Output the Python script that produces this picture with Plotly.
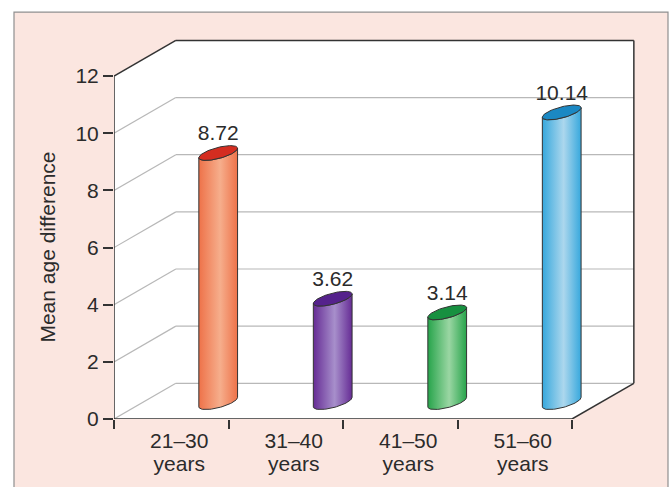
import numpy as np
import plotly.graph_objects as go

# data
categories = ["21–30", "31–40", "41–50", "51–60"]
category_unit = "years"
values = [8.72, 3.62, 3.14, 10.14]
value_labels = ["8.72", "3.62", "3.14", "10.14"]
y_ticks = [0, 2, 4, 6, 8, 10, 12]

edge_colors = ["#ee7249", "#662c95", "#27a44b", "#37a8dd"]
light_colors = ["#f6ae8c", "#a78fcb", "#9ad6a3", "#acd7ed"]
top_colors = ["#d42d20", "#55228c", "#179040", "#1b88c3"]

W, H = 669, 487
ML, MR, MT, MB = 114, 34, 39, 66
XR = [-0.5, 4.05]
YR = [0, 13.3]
KX = (W - ML - MR) / (XR[1] - XR[0])   # px per x unit
KY = (H - MT - MB) / (YR[1] - YR[0])   # px per y unit

DX, DY = 0.54, 1.25        # depth of the fake 3D box
CX_OFF, BASE = 0.41, 0.59  # cylinder placement inside the box
A, B, TH = 20.0, 5.5, np.radians(15)  # ellipse in pixels

DARK = "#333333"
GRID = "#b8b8b8"
TXT = "#2b2b2b"
FS = 21


def ellipse(cx, cy, t):
    ex = A * np.cos(TH) * np.cos(t) - B * np.sin(TH) * np.sin(t)
    ey = A * np.sin(TH) * np.cos(t) + B * np.cos(TH) * np.sin(t)
    return cx + ex / KX, cy + ey / KY


t0 = np.arctan2(-B * np.sin(TH), A * np.cos(TH))
arc = np.linspace(t0 - np.pi, t0, 40)
full = np.linspace(0, 2 * np.pi, 80)
ell_h = np.sqrt((A * np.sin(TH)) ** 2 + (B * np.cos(TH)) ** 2) / KY

fig = go.Figure()

for i, v in enumerate(values):
    cx = i + CX_OFF
    bx, by = ellipse(cx, BASE, arc)
    tx, ty = ellipse(cx, BASE + v, arc)
    # cylinder body with horizontal shading
    fig.add_trace(go.Scatter(
        x=list(tx) + list(bx[::-1]) + [tx[0]],
        y=list(ty) + list(by[::-1]) + [ty[0]],
        mode="lines", fill="toself", line=dict(color=DARK, width=1),
        fillgradient=dict(type="horizontal",
                          colorscale=[[0, edge_colors[i]], [0.55, light_colors[i]], [1, edge_colors[i]]]),
        hoverinfo="skip", showlegend=False))
    # top cap
    ex, ey = ellipse(cx, BASE + v, full)
    fig.add_trace(go.Scatter(
        x=ex, y=ey, mode="lines", fill="toself", fillcolor=top_colors[i],
        line=dict(color=DARK, width=1), hoverinfo="skip", showlegend=False))

fig.add_trace(go.Scatter(
    x=[i + CX_OFF for i in range(len(values))],
    y=[BASE + v + ell_h for v in values],
    mode="text", text=value_labels, textposition="top center",
    textfont=dict(size=FS, color=TXT), hoverinfo="skip", showlegend=False))
# invisible trace so the second x axis (second label line) gets drawn
fig.add_trace(go.Scatter(x=[0], y=[0], xaxis="x2", mode="markers",
                         marker=dict(opacity=0), hoverinfo="skip", showlegend=False))

# box and grid
shapes = []
shapes.append(dict(type="rect", xref="paper", yref="paper", layer="below",
                   x0=(14 - ML) / (W - ML - MR), x1=(668 - ML) / (W - ML - MR),
                   y0=-0.2, y1=(H - MB - 12) / (H - MT - MB),
                   line=dict(color="#8f8f8f", width=1.2), fillcolor="#fbe6e0"))
x0, x1 = -0.5, len(categories) - 0.5
top = y_ticks[-1]
box = (f"M {x0},0 L {x0},{top} L {x0 + DX},{top + DY} L {x1 + DX},{top + DY} "
       f"L {x1 + DX},{DY} L {x1},0 Z")
shapes.append(dict(type="path", path=box, xref="x", yref="y", layer="below",
                   fillcolor="white", line=dict(width=0)))
for v in y_ticks:
    col = DARK if v == top else GRID
    w = 1.5 if v == top else 1.2
    shapes.append(dict(type="line", xref="x", yref="y", layer="below",
                       x0=x0, y0=v, x1=x0 + DX, y1=v + DY, line=dict(color=col, width=w)))
    shapes.append(dict(type="line", xref="x", yref="y", layer="below",
                       x0=x0 + DX, y0=v + DY, x1=x1 + DX, y1=v + DY, line=dict(color=col, width=w)))
edges = [(x0, 0, x0, top), (x0, 0, x1, 0), (x1, 0, x1 + DX, DY), (x1 + DX, DY, x1 + DX, top + DY)]
for a0, b0, a1, b1 in edges:
    shapes.append(dict(type="line", xref="x", yref="y", layer="below",
                       x0=a0, y0=b0, x1=a1, y1=b1, line=dict(color=DARK, width=1.5)))

xcommon = dict(range=XR, showgrid=False, zeroline=False, showline=False, fixedrange=True,
               tickmode="array", tickvals=list(range(len(categories))),
               ticks="outside", ticklen=3, tickcolor="rgba(0,0,0,0)", ticklabelshift=8,
               tickfont=dict(size=FS, color=TXT))

fig.update_layout(
    width=W, height=H,
    margin=dict(l=ML, r=MR, t=MT, b=MB),
    paper_bgcolor="white", plot_bgcolor="rgba(0,0,0,0)",
    font=dict(family="Liberation Sans, Arial, sans-serif", color=TXT, size=FS),
    shapes=shapes,
    xaxis=dict(**xcommon, ticktext=categories,
               minor=dict(tickmode="array", tickvals=[c - 0.5 for c in range(len(categories) + 1)],
                          ticks="outside", ticklen=9, tickcolor=DARK, tickwidth=1.5, showgrid=False)),
    xaxis2=dict(**xcommon, ticktext=[category_unit] * len(categories),
                overlaying="x", anchor="y", side="bottom", ticklabelstandoff=23),
    yaxis=dict(range=YR, showgrid=False, zeroline=False, showline=False,
               tickmode="array", tickvals=y_ticks, ticks="outside", ticklen=10,
               tickcolor=DARK, tickwidth=1.5, tickfont=dict(size=FS, color=TXT), fixedrange=True),
    annotations=[dict(text="Mean age difference", textangle=-90, showarrow=False,
                      xref="paper", yref="y", x=(48 - ML) / (W - ML - MR), y=top / 2,
                      xanchor="center", yanchor="middle", font=dict(size=FS, color=TXT))],
)

fig.write_html("out.html", config={"displayModeBar": False},
               post_script="document.body.style.margin='0';")
